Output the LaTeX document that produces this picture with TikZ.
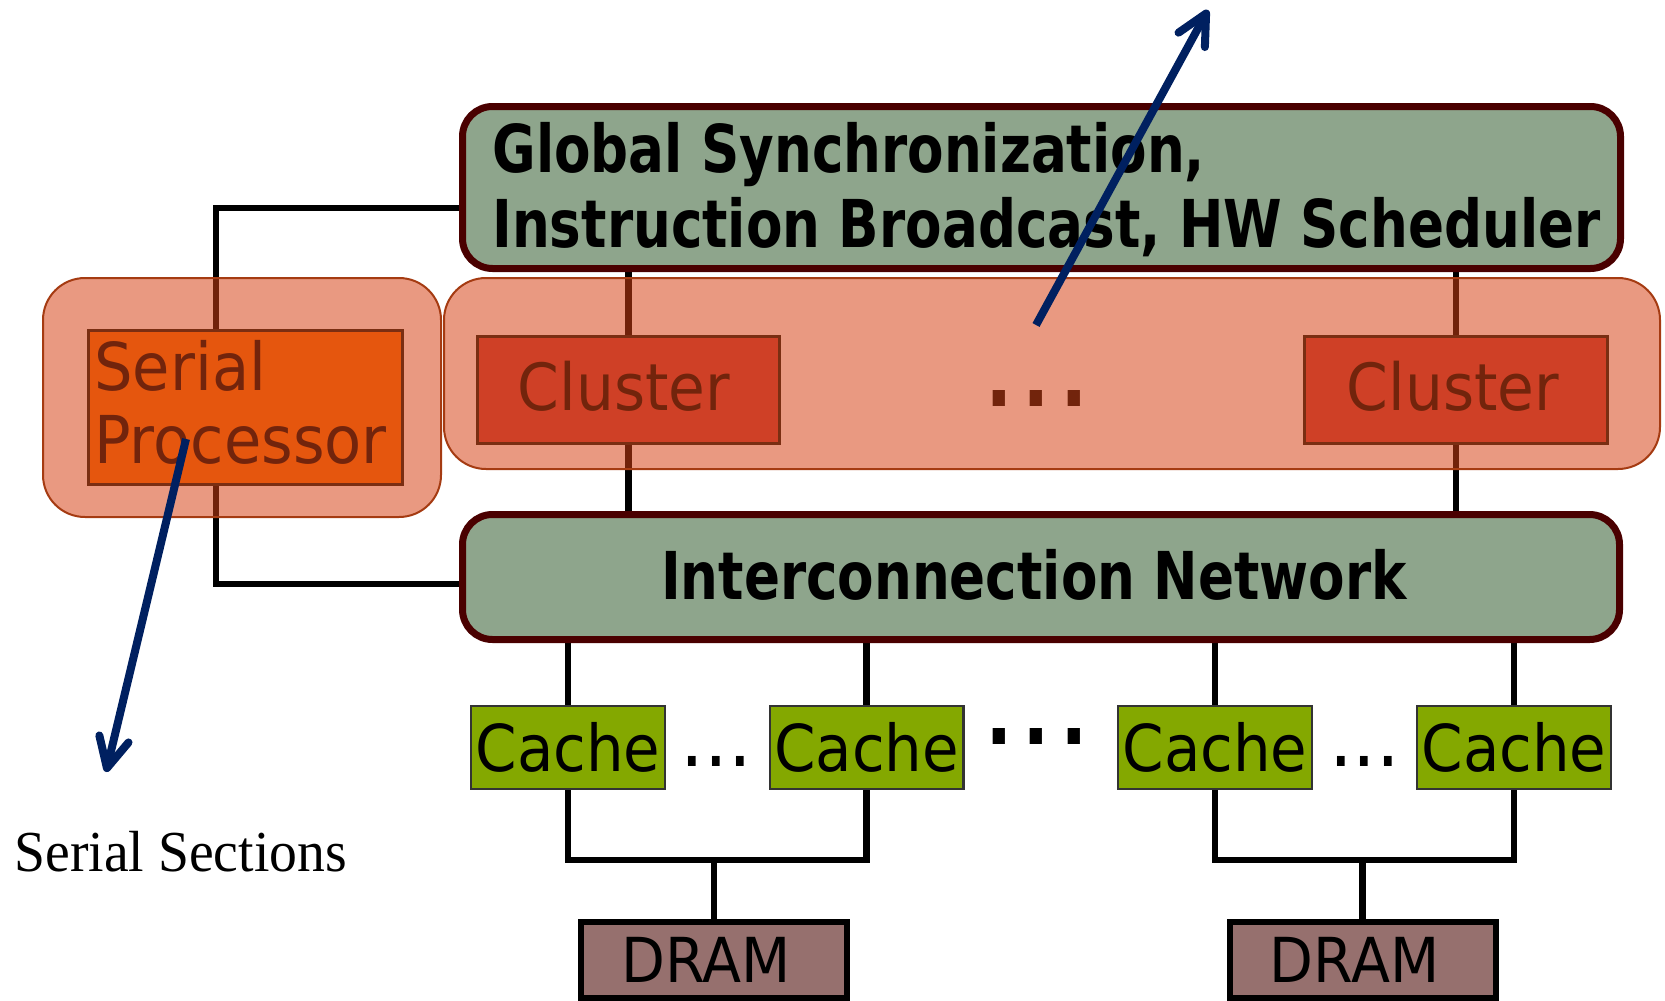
\documentclass[tikz,border=0pt]{standalone}
\usepackage{fontspec}
\newfontfamily\dvs{DejaVu Sans}[FakeStretch=0.92]
\newfontfamily\dvsb{DejaVu Sans}[FakeStretch=0.805]
\newfontfamily\lser{Liberation Serif}[FakeStretch=0.96]
\usetikzlibrary{arrows.meta,fit}
\definecolor{boxgreen}{HTML}{8EA58C}
\definecolor{boxrim}{HTML}{4A0000}
\definecolor{grpfill}{HTML}{D54013}
\definecolor{grprim}{HTML}{A53B12}
\definecolor{procfill}{HTML}{E5560E}
\definecolor{clufill}{HTML}{CF4026}
\definecolor{innerrim}{HTML}{7A2E12}
\definecolor{brownink}{HTML}{72240C}
\definecolor{cachefill}{HTML}{84A800}
\definecolor{cacherim}{HTML}{333333}
\definecolor{dramfill}{HTML}{96706E}
\definecolor{navy}{HTML}{002060}
\pgfdeclarelayer{lines}
\pgfdeclarelayer{groups}
\pgfsetlayers{lines,groups,main}
\tikzset{
 conn/.style={draw=black, line width=3.4pt},
 bigbox/.style={draw=boxrim, line width=3.5pt, fill=boxgreen, rounded corners=15pt, inner sep=0pt},
 grp/.style={draw=grprim, line width=1pt, fill=grpfill, fill opacity=0.535, rounded corners=21pt, inner sep=0pt},
 procbox/.style={draw=innerrim, line width=1.5pt, fill=procfill, inner sep=0pt},
 clubox/.style={draw=innerrim, line width=1.5pt, fill=clufill, inner sep=0pt},
 cachebox/.style={draw=cacherim, line width=1.2pt, fill=cachefill, inner sep=0pt, minimum width=96.8pt, minimum height=41.3pt, font=\dvs\fontsize{32.3}{38}\selectfont},
 drambox/.style={draw=black, line width=3pt, fill=dramfill, inner sep=0pt, minimum width=133pt, minimum height=38pt, font=\dvs\fontsize{31}{36}\selectfont},
 boldlabel/.style={inner sep=0pt, font=\dvsb\bfseries\fontsize{33}{37.5}\selectfont},
 brownlabel/.style={inner sep=0pt, text=brownink},
 dots/.style={inner sep=0pt},
 navyarrow/.style={draw=navy, line width=4pt, -{Straight Barb[length=15pt,width=15pt,round]}},
}
\begin{document}
\begin{tikzpicture}[x=0.5pt,y=-0.5pt]
\useasboundingbox (0,0) rectangle (1665,1001);
% big green boxes
\node[bigbox, fit={(462.5,106.5) (1620.5,268.5)}] (glob) {};
\node[boldlabel, align=left, anchor=west] (globtxt) at (492,190) {Global Synchronization,\\Instruction Broadcast, HW Scheduler};
\node[bigbox, fit={(462.5,514.5) (1619.5,639.5)}] (inet) {};
\node[boldlabel, font=\dvsb\bfseries\fontsize{33}{37}\selectfont, anchor=base] (inettxt) at (1034,599) {Interconnection Network};
% groups
\begin{pgfonlayer}{groups}
\node[grp, fit={(43,278) (441,517)}] (sgrp) {};
\node[grp, fit={(444,278) (1660,469)}] (cgrp) {};
\end{pgfonlayer}
% serial processor
\node[procbox, fit={(88.5,330.5) (402.5,484.5)}] (sproc) {};
\node[brownlabel, align=left, anchor=west, font=\dvs\fontsize{33}{36.5}\selectfont] (sproctxt) at (94,402) {Serial\\Processor};
% clusters
\node[clubox, fit={(477.5,336.5) (779.5,443.5)}] (cl1) {};
\node[brownlabel, anchor=base, font=\dvs\fontsize{32.5}{38}\selectfont] (cl1txt) at (624,410) {Cluster};
\node[clubox, fit={(1304.5,336.5) (1607.5,443.5)}] (cl2) {};
\node[brownlabel, anchor=base, font=\dvs\fontsize{32.5}{38}\selectfont] (cl2txt) at (1453,410) {Cluster};
\node[brownlabel, anchor=base, font=\dvs\fontsize{64.5}{70}\selectfont] (cdots) at (1036.7,406) {...};
% caches
\node[cachebox] (c1) at (568,747.5) {Cache};
\node[cachebox] (c2) at (866.5,747.5) {Cache};
\node[cachebox] (c3) at (1215,747.5) {Cache};
\node[cachebox] (c4) at (1514,747.5) {Cache};
\node[dots, anchor=base, font=\dvs\fontsize{40.5}{44}\selectfont] (d1) at (716.3,766) {...};
\node[dots, anchor=base, font=\dvs\fontsize{64.5}{70}\selectfont] (d2) at (1036.7,744) {...};
\node[dots, anchor=base, font=\dvs\fontsize{40.5}{44}\selectfont] (d3) at (1364.8,766) {...};
% DRAM
\node[drambox] (dr1) at (714,960) {DRAM\kern8pt};
\node[drambox] (dr2) at (1362.5,960) {DRAM\kern8pt};
% caption
\node[inner sep=0pt, anchor=base west, font=\lser\fontsize{29}{33}\selectfont] (sstxt) at (14,871) {Serial Sections};
% connectors
\begin{pgfonlayer}{lines}
\draw[conn] (glob.west |- 0,208) -| (216,0 |- sproc.north);
\draw[conn] (216,0 |- sproc.south) |- (inet.west |- 0,584);
\draw[conn] (cl1.north |- glob.south) -- (cl1.north);
\draw[conn] (cl1.south) -- (cl1.south |- inet.north);
\draw[conn] (cl2.north |- glob.south) -- (cl2.north);
\draw[conn] (cl2.south) -- (cl2.south |- inet.north);
\foreach \c in {c1,c2,c3,c4} \draw[conn] (\c.north |- inet.south) -- (\c.north);
\draw[conn] (c1.south) -- (c1.south |- 0,860) -| (c2.south);
\draw[conn] (dr1.north) -- (dr1.north |- 0,860);
\draw[conn] (c3.south) -- (c3.south |- 0,860) -| (c4.south);
\draw[conn] (dr2.north) -- (dr2.north |- 0,860);
\end{pgfonlayer}
% arrows
\coordinate (a1s) at (1036,325);
\coordinate (a1e) at (1208,10);
\draw[navyarrow] (a1s) -- (a1e);
\coordinate (a2s) at (186,439);
\coordinate (a2e) at (106,772);
\draw[navyarrow] (a2s) -- (a2e);
\end{tikzpicture}
\end{document}
